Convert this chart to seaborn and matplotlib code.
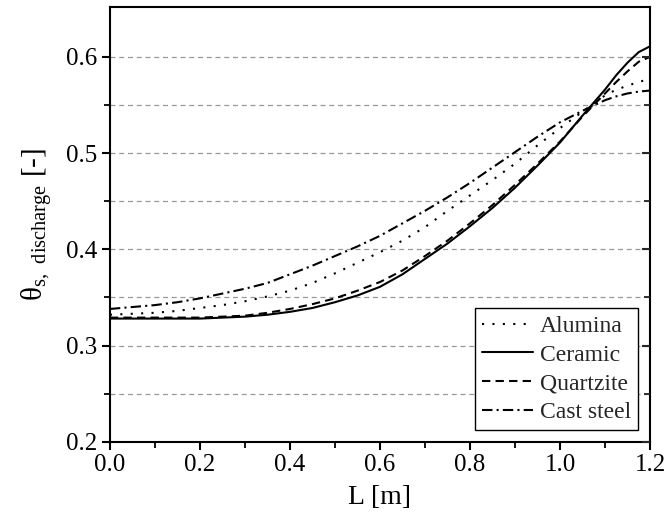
import matplotlib
matplotlib.use("Agg")
import matplotlib.pyplot as plt
import seaborn as sns
import pandas as pd
from matplotlib.ticker import MultipleLocator, FixedLocator

L = [0.0, 0.05, 0.1, 0.15, 0.2, 0.25, 0.3, 0.35, 0.4, 0.45, 0.5, 0.55, 0.6,
     0.65, 0.7, 0.75, 0.8, 0.85, 0.9, 0.95, 1.0, 1.05, 1.1, 1.125, 1.15, 1.175, 1.2]

alumina = [0.332, 0.333, 0.334, 0.336, 0.339, 0.342, 0.346, 0.351, 0.357, 0.365, 0.375, 0.386, 0.397,
           0.409, 0.423, 0.440, 0.456, 0.472, 0.489, 0.508, 0.526, 0.543, 0.560, 0.566, 0.570, 0.574, 0.577]
ceramic = [0.328, 0.328, 0.328, 0.328, 0.328, 0.329, 0.330, 0.332, 0.335, 0.339, 0.345, 0.352, 0.361,
           0.374, 0.390, 0.406, 0.424, 0.443, 0.464, 0.487, 0.511, 0.539, 0.566, 0.581, 0.594, 0.605, 0.611]
quartzite = [0.329, 0.329, 0.329, 0.329, 0.329, 0.330, 0.331, 0.334, 0.338, 0.343, 0.349, 0.357, 0.366,
             0.378, 0.393, 0.409, 0.427, 0.446, 0.467, 0.489, 0.512, 0.538, 0.562, 0.574, 0.585, 0.595, 0.600]
cast_steel = [0.338, 0.340, 0.342, 0.345, 0.349, 0.354, 0.359, 0.365, 0.374, 0.383, 0.393, 0.403, 0.414,
              0.427, 0.440, 0.454, 0.469, 0.485, 0.501, 0.517, 0.532, 0.544, 0.555, 0.559, 0.562, 0.564, 0.565]

names = ["Alumina", "Ceramic", "Quartzite", "Cast steel"]
series = [alumina, ceramic, quartzite, cast_steel]

x_ticks = [0.0, 0.2, 0.4, 0.6, 0.8, 1.0, 1.2]
y_ticks = [0.2, 0.3, 0.4, 0.5, 0.6]

rows = []
for n, s in zip(names, series):
    for x, y in zip(L, s):
        rows.append({"L": x, "theta": y, "material": n})
df = pd.DataFrame(rows)

sns.set_theme(style="ticks")
plt.rcParams["font.family"] = ["Liberation Serif", "DejaVu Serif"]
plt.rcParams["mathtext.fontset"] = "custom"
plt.rcParams["mathtext.rm"] = "Liberation Serif"

fig = plt.figure(figsize=(6.66, 5.29), dpi=100)
ax = fig.add_axes([0.165, 0.165, 0.811, 0.822])

dash_styles = {"Alumina": (1, 4), "Ceramic": "", "Quartzite": (4, 2.5), "Cast steel": (5, 2, 1, 2)}
sns.lineplot(data=df, x="L", y="theta", style="material", style_order=names,
             dashes=dash_styles, color="black", linewidth=1.5, ax=ax)

ax.set_xticks(x_ticks)
ax.set_xticklabels([f"{v:.1f}" for v in x_ticks])
ax.set_yticks(y_ticks)
ax.set_yticklabels([f"{v:.1f}" for v in y_ticks])
ax.xaxis.set_minor_locator(MultipleLocator(0.1))
ax.yaxis.set_minor_locator(FixedLocator([0.25, 0.35, 0.45, 0.55]))
ax.set_xlim(0, 1.2)
ax.set_ylim(0.2, 0.652)

ax.yaxis.grid(True, which="both", color="#999999", linestyle=(0, (4, 3)), linewidth=0.9)
ax.set_axisbelow(True)

for sp in ax.spines.values():
    sp.set_linewidth(1.5)
    sp.set_color("black")

ax.tick_params(axis="both", which="major", direction="out", length=6, width=1.5,
               labelsize=18, colors="black", pad=3)
ax.tick_params(axis="both", which="minor", direction="out", length=4, width=1.3, colors="black")

# inward ticks on the right spine
ax2 = ax.twinx()
ax2.set_ylim(ax.get_ylim())
ax2.set_yticks(y_ticks)
ax2.yaxis.set_minor_locator(FixedLocator([0.25, 0.35, 0.45, 0.55]))
ax2.tick_params(axis="y", which="major", direction="in", length=6, width=1.5, labelright=False)
ax2.tick_params(axis="y", which="minor", direction="in", length=4, width=1.3)
ax2.grid(False)
for sp in ax2.spines.values():
    sp.set_visible(False)

ax.set_xlabel("L [m]", fontsize=20, color="black", labelpad=6)
ax.set_ylabel(r"θ$_{\mathregular{s,\ discharge}}$ [-]", fontsize=21, color="black", labelpad=8)

leg = ax.legend(loc="lower right", fontsize=17, frameon=True, fancybox=False,
                edgecolor="black", framealpha=1, handlelength=2.15, handletextpad=0.3,
                borderpad=0.3, labelspacing=0.3, borderaxespad=0.5)
leg.get_frame().set_linewidth(1.0)
leg.set_title(None)

fig.savefig("out.png", dpi=100)
